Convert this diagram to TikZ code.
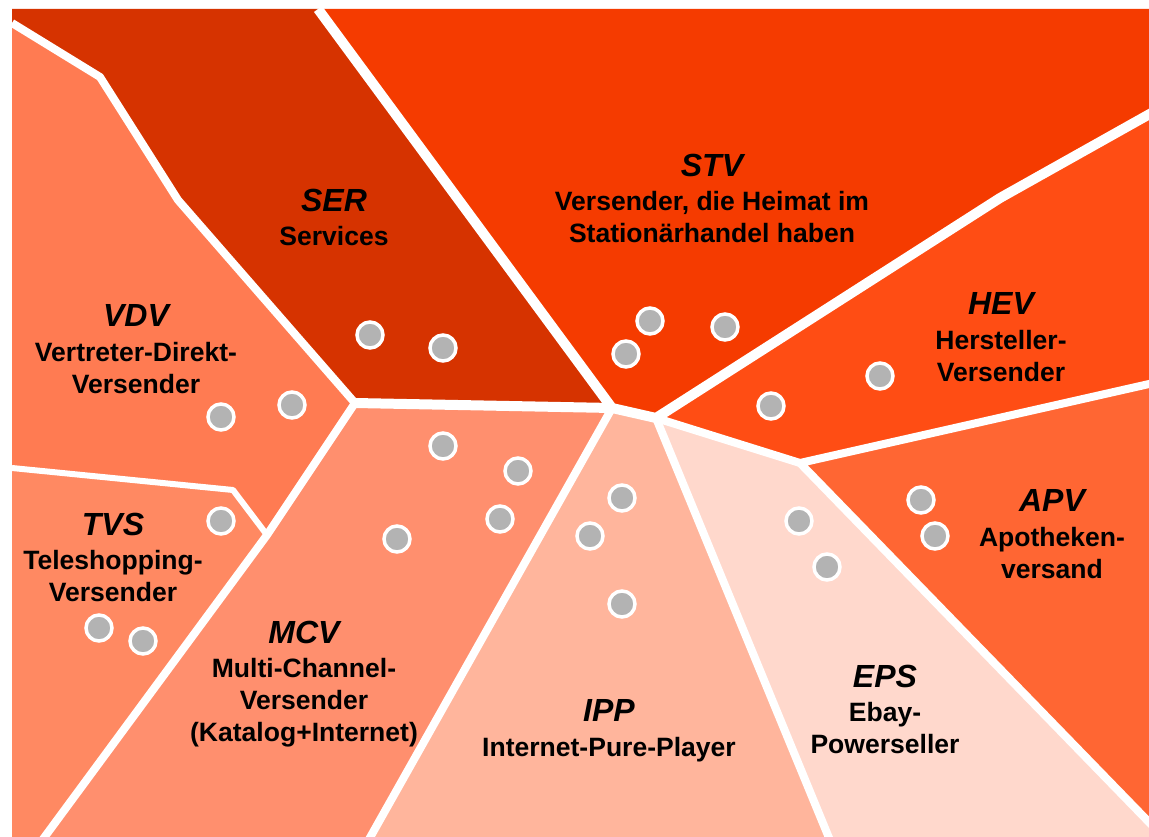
\documentclass[tikz,border=0pt]{standalone}
\usepackage{fontspec}
\setmainfont{Liberation Sans}
\usepackage{tikz}
\usetikzlibrary{calc}
\definecolor{ser}{RGB}{214,51,0}
\definecolor{stv}{RGB}{245,59,0}
\definecolor{hev}{RGB}{255,77,20}
\definecolor{apv}{RGB}{255,102,51}
\definecolor{vdv}{RGB}{255,123,82}
\definecolor{tvs}{RGB}{255,137,98}
\definecolor{mcv}{RGB}{255,143,110}
\definecolor{ipp}{RGB}{255,181,156}
\definecolor{eps}{RGB}{255,216,204}
\definecolor{dotgray}{RGB}{179,179,179}
\newcommand{\typname}[1]{{\fontsize{24}{27}\selectfont\bfseries\itshape #1}}

\begin{document}
\begin{tikzpicture}[x=0.75pt,y=-0.75pt,
    gap/.style={draw=white,line width=6pt,line join=round},
    widegap/.style={draw=white,line width=7.5pt,line join=round},
    thingap/.style={draw=white,line width=4.5pt,line join=round},
    dot/.style={circle,fill=dotgray,draw=white,line width=2.6pt,minimum size=19.5pt,inner sep=0pt},
    typtext/.style={anchor=north,align=center,inner sep=0pt,font=\bfseries\fontsize{19.9}{24}\selectfont}]
    \useasboundingbox (0,0) rectangle (1149,837);
    \clip (0,0) rectangle (1149,837);

    \coordinate (t1) at (318,9);
    \coordinate (l1) at (12,23);
    \coordinate (l2) at (12,468);
    \coordinate (s1) at (100,77);
    \coordinate (s2) at (178,200);
    \coordinate (k1) at (233,490);
    \coordinate (j1) at (355,403);
    \coordinate (j2) at (612,408);
    \coordinate (j3) at (656,418);
    \coordinate (j4) at (800,463);
    \coordinate (j5) at (267,535);
    \coordinate (h1) at (1000,198);
    \coordinate (r1) at (1180,97);
    \coordinate (r2) at (1180,377);
    \coordinate (b0) at (35,850);
    \coordinate (b1) at (363,850);
    \coordinate (b2) at (834,850);
    \coordinate (b3) at (1176,850);

    \fill[ser] (12,9) -- (t1) -- (j2) -- (j1) -- (s2) -- (s1) -- (l1) -- cycle;
    \fill[stv] (t1) -- (1180,9) -- (r1) -- (h1) -- (j3) -- (j2) -- cycle;
    \fill[hev] (j3) -- (h1) -- (r1) -- (r2) -- (j4) -- cycle;
    \fill[apv] (j4) -- (r2) -- (1180,850) -- (b3) -- cycle;
    \fill[eps] (j3) -- (j4) -- (b3) -- (b2) -- cycle;
    \fill[ipp] (j2) -- (j3) -- (b2) -- (b1) -- cycle;
    \fill[mcv] (j1) -- (j2) -- (b1) -- (b0) -- (j5) -- cycle;
    \fill[tvs] (l2) -- (k1) -- (j5) -- (b0) -- (12,850) -- cycle;
    \fill[vdv] (l1) -- (s1) -- (s2) -- (j1) -- (j5) -- (k1) -- (l2) -- cycle;

    \draw[gap] (l1) -- (s1) -- (s2) -- (j1);
    \draw[widegap] (j1) -- (j2);
    \draw[widegap] (t1) -- (j2) -- (j3) -- (h1) -- (r1);
    \draw[gap] (j3) -- (j4) -- (r2);
    \draw[gap] (j4) -- (b3);
    \draw[gap] (j3) -- (b2);
    \draw[gap] (j2) -- (b1);
    \draw[gap] (j1) -- (j5) -- (b0);
    \draw[thingap] (l2) -- (k1) -- (j5);

    \node[dot] (ser1) at (370,335) {};
    \node[dot] (ser2) at (443,348) {};
    \node[dot] (stv1) at (650,321) {};
    \node[dot] (stv2) at (725,327) {};
    \node[dot] (stv3) at (626,354) {};
    \node[dot] (hev1) at (771,406) {};
    \node[dot] (hev2) at (880,376) {};
    \node[dot] (vdv1) at (221,417) {};
    \node[dot] (vdv2) at (292,405) {};
    \node[dot] (tvs1) at (221,521) {};
    \node[dot] (tvs2) at (99,628) {};
    \node[dot] (tvs3) at (143,641) {};
    \node[dot] (mcv1) at (443,446) {};
    \node[dot] (mcv2) at (518,471) {};
    \node[dot] (mcv3) at (500,519) {};
    \node[dot] (mcv4) at (397,539) {};
    \node[dot] (ipp1) at (622,498) {};
    \node[dot] (ipp2) at (590,536) {};
    \node[dot] (ipp3) at (622,604) {};
    \node[dot] (eps1) at (799,521) {};
    \node[dot] (eps2) at (827,567) {};
    \node[dot] (apv1) at (921,500) {};
    \node[dot] (apv2) at (935,536) {};

    \node[typtext] (sertxt) at (334,188.5) {\typname{SER}\\[2pt]Services};
    \node[typtext] (stvtxt) at (712,153.5) {\typname{STV}\\[2pt]Versender, die Heimat im\\Stationärhandel haben};
    \node[typtext] (hevtxt) at (1001,292.5) {\typname{HEV}\\[2pt]Hersteller-\\Versender};
    \node[typtext] (vdvtxt) at (136,304.5) {\typname{VDV}\\[2pt]Vertreter-Direkt-\\Versender};
    \node[typtext] (tvstxt) at (113,512.5) {\typname{TVS}\\[2pt]Teleshopping-\\Versender};
    \node[typtext] (mcvtxt) at (304,620.5) {\typname{MCV}\\[2pt]Multi-Channel-\\Versender\\(Katalog+Internet)};
    \node[typtext] (ipptxt) at (609,699.5) {\typname{IPP}\\[2pt]Internet-Pure-Player};
    \node[typtext] (epstxt) at (885,664.5) {\typname{EPS}\\[2pt]Ebay-\\Powerseller};
    \node[typtext] (apvtxt) at (1052,489.5) {\typname{APV}\\[2pt]Apotheken-\\versand};
\end{tikzpicture}
\end{document}
